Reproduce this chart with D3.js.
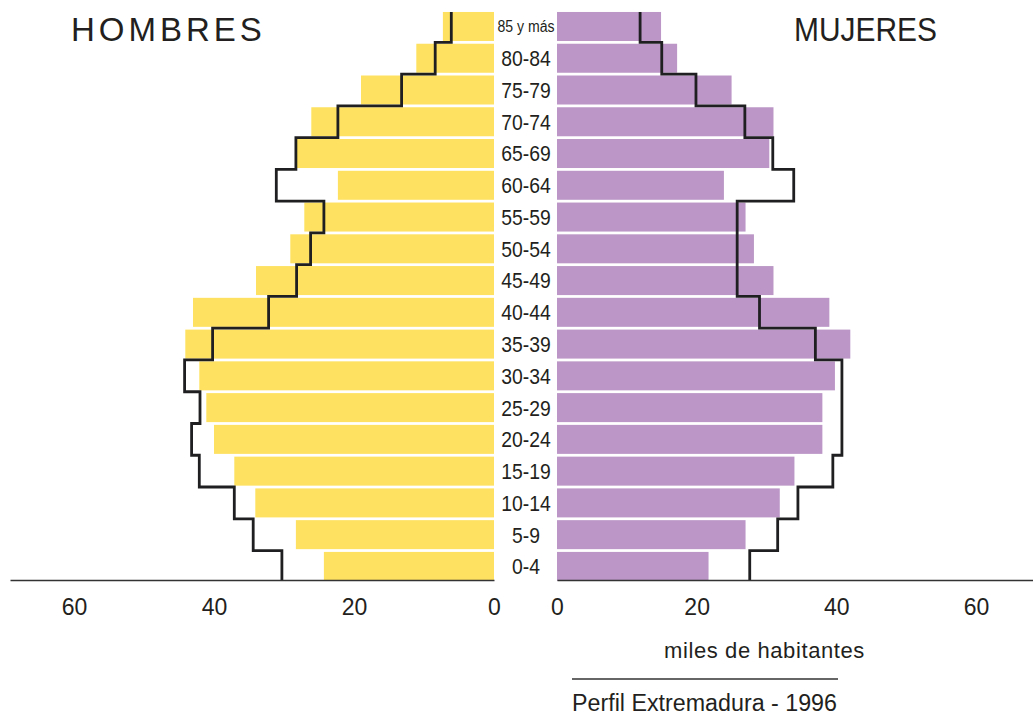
<!DOCTYPE html>
<html>
<head>
<meta charset="utf-8">
<script src="https://cdn.jsdelivr.net/npm/d3@7"></script>
<style>
  body { margin: 0; background: #fff; }
  svg text { font-family: "Liberation Sans", Arial, sans-serif; fill: #231f20; }
</style>
</head>
<body>
<div id="chart"></div>
<script>
(function(){
  var width = 1033,
    height = 717;

  // grupos de edad, de arriba abajo
  var ages = ["85 y más", "80-84", "75-79", "70-74", "65-69", "60-64", "55-59", "50-54", "45-49",
    "40-44", "35-39", "30-34", "25-29", "20-24", "15-19", "10-14", "5-9", "0-4"];

  // miles de habitantes (barras)
  var hombres = [7.3, 11.1, 19.0, 26.1, 28.2, 22.3, 27.1, 29.1, 34.0,
    43.0, 44.1, 42.1, 41.1, 40.0, 37.1, 34.1, 28.3, 24.3];
  var mujeres = [14.9, 17.2, 25.0, 31.0, 30.4, 23.9, 27.0, 28.2, 31.0,
    39.0, 42.0, 39.8, 38.0, 38.0, 34.0, 31.9, 27.0, 21.7];

  // perfil (linea escalonada)
  var perfilHombres = [6.1, 8.4, 13.2, 22.3, 28.3, 31.1, 24.3, 26.2, 28.2,
    32.2, 40.2, 44.2, 42.0, 43.2, 42.1, 37.1, 34.4, 30.3];
  var perfilMujeres = [11.9, 15.0, 19.9, 26.9, 30.9, 33.9, 25.8, 25.8, 25.8,
    29.0, 37.0, 40.8, 40.8, 40.8, 39.5, 34.5, 31.6, 27.6];

  var ticks = [0, 20, 40, 60];

  var svg = d3.select("#chart")
    .append("svg")
    .attr("width", width)
    .attr("height", height);

  var baseY = 580;

  var y = d3.scaleBand().domain(ages).range([10.6, 582.3])
    .paddingInner(0.087).paddingOuter(0.0435);

  // left side grows to the left, right side to the right
  var xL = d3.scaleLinear().domain([0, 60]).range([494, 74]);
  var xR = d3.scaleLinear().domain([0, 60]).range([557, 976]);

  // bars
  svg.selectAll(".h").data(hombres).enter().append("rect")
    .attr("class", "h")
    .attr("x", function(d){ return xL(d); })
    .attr("y", function(d, i){ return y(ages[i]); })
    .attr("width", function(d){ return xL(0) - xL(d); })
    .attr("height", y.bandwidth())
    .attr("fill", "#fee160");

  svg.selectAll(".m").data(mujeres).enter().append("rect")
    .attr("class", "m")
    .attr("x", xR(0))
    .attr("y", function(d, i){ return y(ages[i]); })
    .attr("width", function(d){ return xR(d) - xR(0); })
    .attr("height", y.bandwidth())
    .attr("fill", "#bb96c6");

  // step outline
  var half = y.step() * y.paddingInner() / 2;
  function stepPoints(vals, x) {
    var pts = [];
    vals.forEach(function(v, i){
      var top = i === 0 ? y(ages[i]) : y(ages[i]) - half;
      var bot = i === vals.length - 1 ? baseY : y(ages[i]) + y.bandwidth() + half;
      pts.push([x(v), top], [x(v), bot]);
    });
    return pts;
  }
  var line = d3.line();
  [[perfilHombres, xL], [perfilMujeres, xR]].forEach(function(p){
    svg.append("path")
      .attr("d", line(stepPoints(p[0], p[1])))
      .attr("fill", "none")
      .attr("stroke", "#1f1f21")
      .attr("stroke-width", 2.8)
      .attr("stroke-linejoin", "miter");
  });

  // axes
  svg.append("g").attr("transform", "translate(0," + baseY + ")")
    .call(d3.axisBottom(xL.copy().domain([0, 69.14]).range([494, 10])).tickValues([]).tickSizeOuter(0));
  svg.append("g").attr("transform", "translate(0," + baseY + ")")
    .call(d3.axisBottom(xR.copy().domain([0, 68.4]).range([557, 1033])).tickValues([]).tickSizeOuter(0));
  svg.selectAll(".domain").attr("stroke", "#333").attr("stroke-width", 1.5);

  [xL, xR].forEach(function(x){
    svg.append("g").attr("transform", "translate(0," + baseY + ")")
      .call(d3.axisBottom(x).tickValues(ticks).tickSize(0))
      .call(function(g){ g.select(".domain").remove(); })
      .selectAll("text")
      .attr("y", 35).attr("dy", 0)
      .style("font-size", "23px")
      .style("font-family", "\"Liberation Sans\", Arial, sans-serif")
      .attr("fill", "#231f20");
  });

  // age labels
  svg.selectAll(".age").data(ages).enter().append("text")
    .attr("class", "age")
    .attr("x", 526)
    .attr("y", function(d){ return y(d) + y.bandwidth() / 2; })
    .attr("dy", "0.36em")
    .attr("text-anchor", "middle")
    .style("font-size", function(d, i){ return i === 0 ? "16px" : "22px"; })
    .text(function(d){ return d; })
    .each(function(){
      var w = this.getComputedTextLength();
      d3.select(this).attr("textLength", w * 0.88).attr("lengthAdjust", "spacingAndGlyphs");
    });

  // titles
  svg.append("text").attr("x", 71).attr("y", 41)
    .style("font-size", "33px")
    .style("letter-spacing", "4px")
    .text("HOMBRES");
  svg.append("text").attr("x", 794).attr("y", 41)
    .style("font-size", "33px")
    .attr("textLength", 143).attr("lengthAdjust", "spacingAndGlyphs")
    .text("MUJERES");

  svg.append("text").attr("x", 664).attr("y", 658)
    .style("font-size", "22px")
    .style("letter-spacing", "0.6px")
    .text("miles de habitantes");

  svg.append("line")
    .attr("x1", 572).attr("x2", 838)
    .attr("y1", 679).attr("y2", 679)
    .attr("stroke", "#333").attr("stroke-width", 1.5);

  svg.append("text").attr("x", 572).attr("y", 711)
    .style("font-size", "23px")
    .attr("textLength", 265).attr("lengthAdjust", "spacingAndGlyphs")
    .text("Perfil Extremadura - 1996");
})();
</script>
</body>
</html>
